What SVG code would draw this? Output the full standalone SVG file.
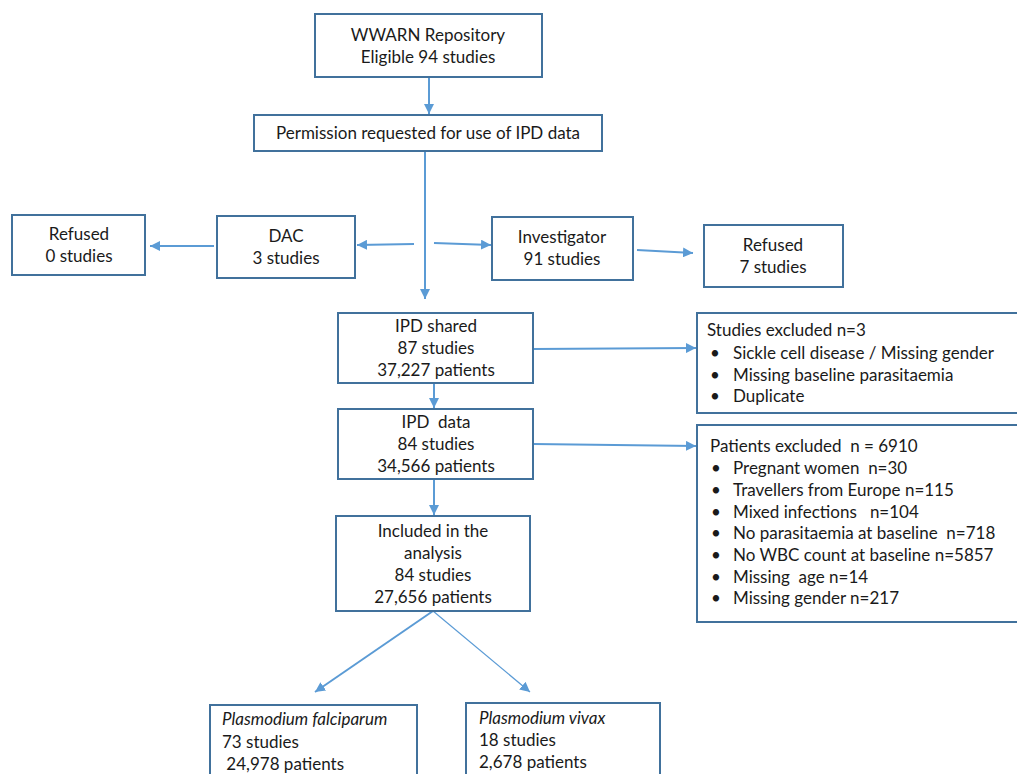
<svg xmlns="http://www.w3.org/2000/svg" width="1017" height="774" viewBox="0 0 1017 774">
<defs>
<marker id="ah" viewBox="0 0 10 10" refX="10" refY="5" markerWidth="10" markerHeight="10" markerUnits="userSpaceOnUse" orient="auto"><path d="M0,0 L10,5 L0,10 z" fill="#5B9BD5"/></marker>
<style>
.box{fill:#fff;stroke:#41719C;stroke-width:2}
.t{font-family:Lato,"Liberation Sans",sans-serif;font-size:17px;fill:#1a1a1a;white-space:pre}
.c{text-anchor:middle}
.i{font-style:italic}
.ln{stroke:#5B9BD5;stroke-width:2;fill:none;marker-end:url(#ah)}
.thin{stroke-width:1.2}
</style>
</defs>
<rect width="1017" height="774" fill="#fff"/>
<g id="connectors">
<line class="ln" x1="429" y1="77" x2="429" y2="114"/>
<line class="ln" x1="425" y1="151" x2="425" y2="299"/>
<line class="ln" x1="414" y1="244" x2="357" y2="245"/>
<line class="ln" x1="214" y1="246" x2="150" y2="246"/>
<line class="ln" x1="434" y1="243" x2="491" y2="245"/>
<line class="ln" x1="637" y1="250" x2="693" y2="253"/>
<line class="ln" x1="533" y1="349" x2="696" y2="348"/>
<line class="ln" x1="434" y1="383" x2="434" y2="408"/>
<line class="ln" x1="533" y1="444" x2="696" y2="446"/>
<line class="ln" x1="434" y1="479" x2="434" y2="515"/>
<line class="ln" x1="433" y1="611" x2="315" y2="692"/>
<line class="ln thin" x1="433" y1="611" x2="530" y2="692"/>
</g>
<g id="wwarn"><rect class="box" x="315" y="14" width="227" height="63"/>
<text class="t c" x="428" y="41">WWARN Repository</text>
<text class="t c" x="428" y="63">Eligible 94 studies</text></g>
<g id="permission"><rect class="box" x="254" y="115" width="348" height="36"/>
<text class="t c" x="428" y="139">Permission requested for use of IPD data</text></g>
<g id="refused-left"><rect class="box" x="12" y="215" width="133" height="60"/>
<text class="t c" x="79" y="240">Refused</text>
<text class="t c" x="79" y="262">0 studies</text></g>
<g id="dac"><rect class="box" x="217" y="216" width="138" height="62"/>
<text class="t c" x="286" y="242">DAC</text>
<text class="t c" x="286" y="264">3 studies</text></g>
<g id="investigator"><rect class="box" x="492" y="217" width="141" height="63"/>
<text class="t c" x="562" y="243">Investigator</text>
<text class="t c" x="562" y="265">91 studies</text></g>
<g id="refused-right"><rect class="box" x="704" y="225" width="139" height="62"/>
<text class="t c" x="773" y="251">Refused</text>
<text class="t c" x="773" y="273">7 studies</text></g>
<g id="ipd-shared"><rect class="box" x="338" y="313" width="195" height="70"/>
<text class="t c" x="436" y="332">IPD shared</text>
<text class="t c" x="436" y="354">87 studies</text>
<text class="t c" x="436" y="376">37,227 patients</text></g>
<g id="studies-excluded"><rect class="box" x="697" y="313" width="330" height="100"/>
<text class="t" x="707" y="336">Studies excluded n=3</text>
<text class="t" x="710" y="359">•</text><text class="t" x="733" y="359">Sickle cell disease / Missing gender</text>
<text class="t" x="710" y="381">•</text><text class="t" x="733" y="381">Missing baseline parasitaemia</text>
<text class="t" x="710" y="402">•</text><text class="t" x="733" y="402">Duplicate</text></g>
<g id="ipd-data"><rect class="box" x="338" y="409" width="195" height="70"/>
<text class="t c" x="436" y="428">IPD  data</text>
<text class="t c" x="436" y="450">84 studies</text>
<text class="t c" x="436" y="472">34,566 patients</text></g>
<g id="patients-excluded"><rect class="box" x="697" y="425" width="330" height="197"/>
<text class="t" x="710" y="452">Patients excluded  n = 6910</text>
<text class="t" x="711" y="474">•</text><text class="t" x="733" y="474">Pregnant women  n=30</text>
<text class="t" x="711" y="496">•</text><text class="t" x="733" y="496">Travellers from Europe n=115</text>
<text class="t" x="711" y="518">•</text><text class="t" x="733" y="518">Mixed infections   n=104</text>
<text class="t" x="711" y="539">•</text><text class="t" x="733" y="539">No parasitaemia at baseline  n=718</text>
<text class="t" x="711" y="561">•</text><text class="t" x="733" y="561">No WBC count at baseline n=5857</text>
<text class="t" x="711" y="583">•</text><text class="t" x="733" y="583">Missing  age n=14</text>
<text class="t" x="711" y="604">•</text><text class="t" x="733" y="604">Missing gender n=217</text></g>
<g id="included"><rect class="box" x="336" y="516" width="194" height="95"/>
<text class="t c" x="433" y="537">Included in the</text>
<text class="t c" x="433" y="559">analysis</text>
<text class="t c" x="433" y="581">84 studies</text>
<text class="t c" x="433" y="603">27,656 patients</text></g>
<g id="falciparum"><rect class="box" x="210" y="705" width="207" height="80"/>
<text class="t i" x="222" y="725">Plasmodium falciparum</text>
<text class="t" x="222" y="748">73 studies</text>
<text class="t" x="222" y="770"> 24,978 patients</text></g>
<g id="vivax"><rect class="box" x="466" y="703" width="194" height="80"/>
<text class="t i" x="479" y="724">Plasmodium vivax</text>
<text class="t" x="479" y="746">18 studies</text>
<text class="t" x="479" y="768">2,678 patients</text></g>
</svg>
